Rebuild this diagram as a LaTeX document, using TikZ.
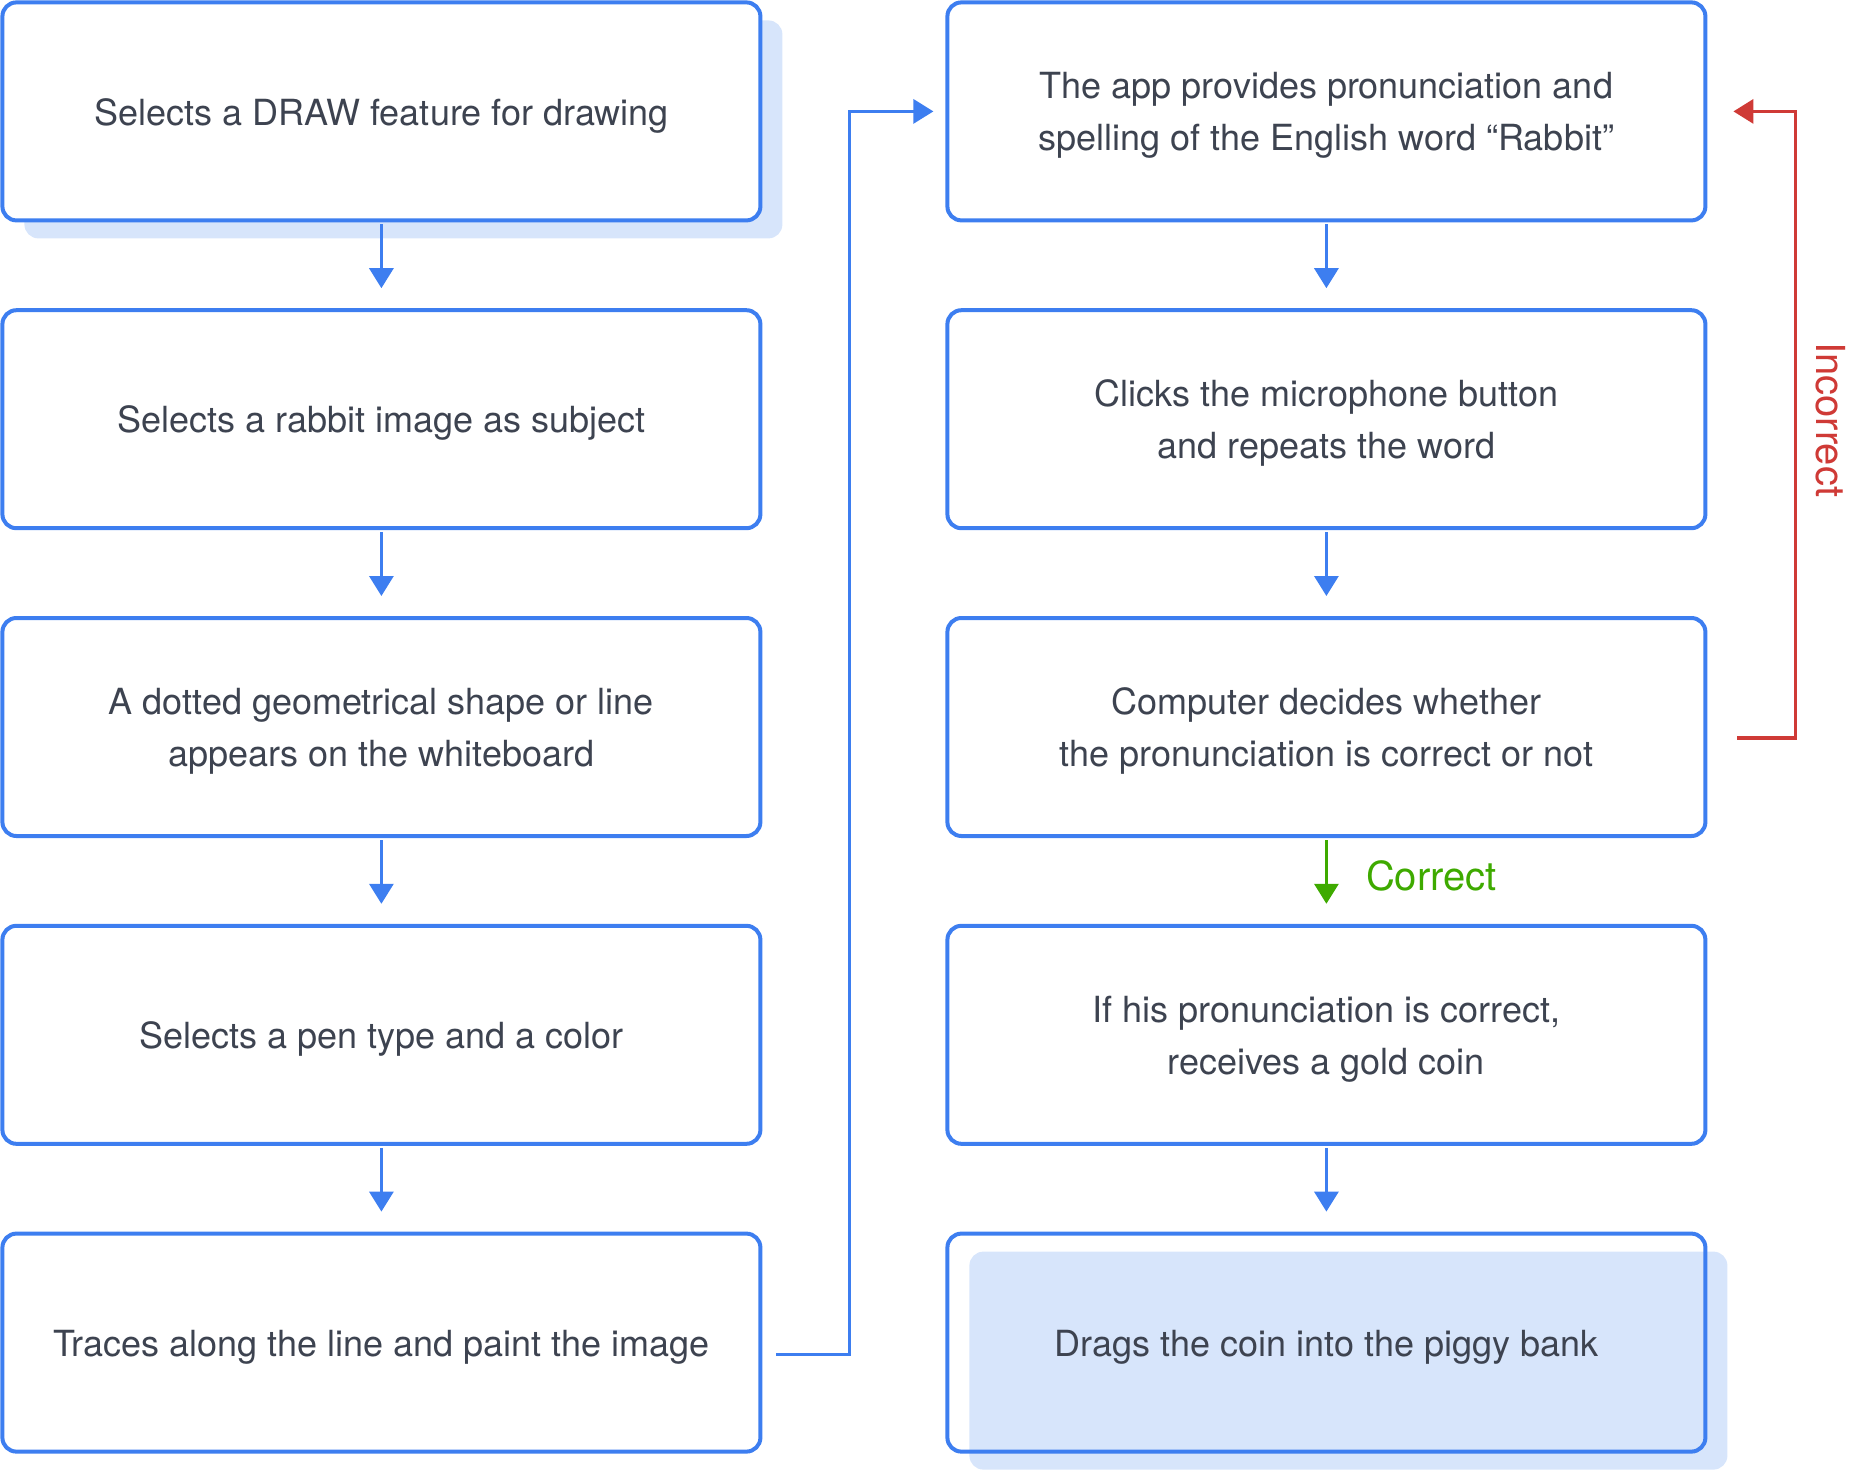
\documentclass[tikz,border=0pt]{standalone}
\usepackage{fontspec}
\setmainfont{TeX Gyre Heros}
\usetikzlibrary{arrows.meta, positioning, shadows}
\definecolor{boxblue}{RGB}{61,126,240}
\definecolor{shadowblue}{RGB}{215,229,251}
\definecolor{textgray}{RGB}{61,67,80}
\definecolor{failred}{RGB}{207,58,54}
\definecolor{okgreen}{RGB}{62,170,0}
\tikzset{
  block/.style={rectangle, draw=boxblue, line width=2pt, rounded corners=7pt, minimum width=379pt, minimum height=109pt, text centered, align=center, text=textgray,
    execute at begin node={\vbox\bgroup\kern4.2pt\hbox\bgroup}, execute at end node={\egroup\egroup}},
  highlight/.style={general shadow={fill=shadowblue, shadow xshift=11pt, shadow yshift=-9pt}},
  arrow/.style={-{Triangle[length=10pt, width=12pt]}, line width=1.6pt, color=boxblue},
  step arrow/.style={arrow, shorten <=1pt, shorten >=10pt}
}

\begin{document}
\begin{tikzpicture}[node distance=42.9pt, every node/.style={font=\fontsize{18}{26}\selectfont}]
  \useasboundingbox (0,0) rectangle (927pt,-736pt);
  % Nodes
  \node[block, highlight, fill=white, anchor=north west] (draw) at (0.2pt,-0.2pt) {Selects a DRAW feature for drawing};
  \node[block, below=of draw] (subject) {Selects a rabbit image as subject};
  \node[block, below=of subject] (dotted) {A dotted geometrical shape or line\\appears on the whiteboard};
  \node[block, below=of dotted] (pen) {Selects a pen type and a color};
  \node[block, below=of pen] (trace) {Traces along the line and paint the image};
  \node[block, right=91.5pt of draw] (app) {The app provides pronunciation and\\spelling of the English word “Rabbit”};
  \node[block, below=of app] (mic) {Clicks the microphone button\\and repeats the word};
  \node[block, below=of mic] (judge) {Computer decides whether\\the pronunciation is correct or not};
  \node[block, below=of judge] (coin) {If his pronunciation is correct,\\receives a gold coin};
  \node[block, highlight, below=of coin] (bank) {Drags the coin into the piggy bank};

  % Connections
  \draw[step arrow] (draw) -- (subject);
  \draw[step arrow] (subject) -- (dotted);
  \draw[step arrow] (dotted) -- (pen);
  \draw[step arrow] (pen) -- (trace);
  \draw[arrow, shorten <=7pt, shorten >=6pt] ([yshift=-6pt]trace.east) -- ++(43.5pt,0) |- (app.west);
  \draw[step arrow] (app) -- (mic);
  \draw[step arrow] (mic) -- (judge);
  \draw[step arrow, color=okgreen] (judge) -- (coin)
    node[midway, right=19pt, yshift=2.5pt, inner sep=0pt, font=\fontsize{20}{24}\selectfont] {Correct};
  \draw[step arrow] (coin) -- (bank);
  \draw[arrow, color=failred, shorten <=15pt, shorten >=13pt] ([yshift=-5.5pt]judge.east) -- ++(44pt,0)
    |- node[pos=0.254, rotate=-90, anchor=south, inner sep=9.5pt, font=\fontsize{20}{24}\selectfont] {Incorrect} (app.east);
\end{tikzpicture}
\end{document}
